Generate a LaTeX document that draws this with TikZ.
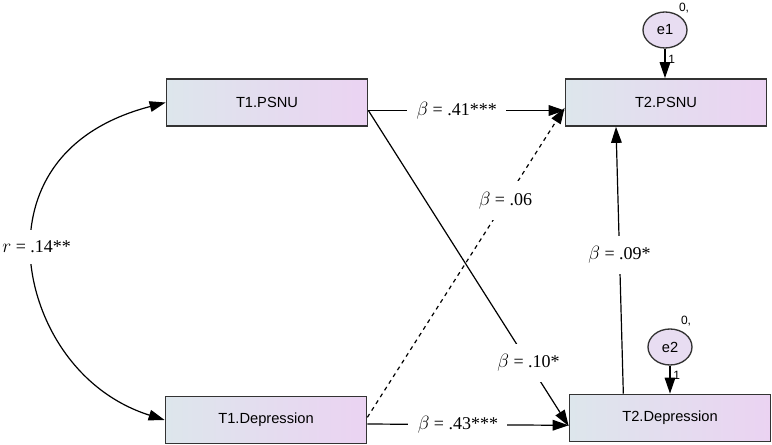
\documentclass[tikz,border=0pt]{standalone}
\usepackage{fontspec}
\setmainfont{Liberation Serif}
\newfontfamily\boxfont{Liberation Sans}
\usetikzlibrary{arrows.meta,shapes.geometric}

\definecolor{boxleft}{HTML}{DDE6EC}
\definecolor{boxright}{HTML}{EBD3F2}
\definecolor{errfill}{HTML}{E8DDF2}

\tikzset{
  var/.style={draw=black!80,line width=1.3pt,minimum width=150.75pt,minimum height=35.25pt,
    left color=boxleft,right color=boxright,font=\boxfont\fontsize{11}{12}\selectfont,inner sep=0pt},
  err/.style={ellipse,draw=black!80,line width=1pt,fill=errfill,minimum width=33pt,minimum height=27pt,
    font=\boxfont\fontsize{11}{12}\selectfont,inner sep=0pt},
  path/.style={line width=0.9pt,-{Triangle[length=12pt,width=8pt]}},
  coef/.style={fill=white,font=\fontsize{13.5}{14}\selectfont,inner xsep=7pt,inner ysep=8pt},
  small/.style={font=\boxfont\fontsize{9}{10}\selectfont,inner sep=2pt}
}

\begin{document}
\begin{tikzpicture}[x=0.75pt,y=-0.75pt]
            \useasboundingbox (0,0) rectangle (772,445);

            \node[var] (psnuA) at (267,102.5) {T1.PSNU};
            \node[var] (psnuB) at (666,102.5) {T2.PSNU};
            \node[var] (depA) at (266,420) {T1.Depression};
            \node[var] (depB) at (670,418) {T2.Depression};

            \node[err] (e1) at (665,30) {e1};
            \node[err] (e2) at (670,347) {e2};
            \node[small] at (684,8) {0,};
            \node[small] at (686,321) {0,};

            % error terms
            \draw[path] (e1) -- (e1 |- psnuB.north) node[small,pos=0.35,right] {1};
            \draw[path] (e2) -- (e2 |- depB.north) node[small,pos=0.35,right] {1};

            % correlation
            \draw[line width=0.9pt,{Triangle[length=12pt,width=8pt]}-{Triangle[length=12pt,width=8pt]}]
              (psnuA.west) .. controls (60,130) and (30,190) .. (30,247)
              node[coef,inner xsep=1pt,xshift=5pt] {$r$ = .14**}
              .. controls (30,310) and (70,390) .. (depA.west);

            % paths
            \draw[path] ([yshift=-6pt]psnuA.east) -- ([yshift=-6pt]psnuB.west)
              node[coef,pos=0.45] {$\beta$ = .41***};
            \draw[path] ([yshift=-6pt]psnuA.east) -- ([yshift=-6pt]depB.west)
              node[coef,pos=0.8] {$\beta$ = .10*};
            \draw[path,dashed] ([yshift=2pt]depA.east) -- ([yshift=-4pt]psnuB.west)
              node[coef,pos=0.7] {$\beta$ = .06};
            \draw[path] ([yshift=-3pt]depA.east) -- ([yshift=-4pt]depA.east -| depB.west)
              node[coef,pos=0.45] {$\beta$ = .43***};
            \draw[path] ([xshift=-35pt]depB.north) -- ([xshift=-37.5pt]psnuB.south)
              node[coef,pos=0.52] {$\beta$ = .09*};
\end{tikzpicture}
\end{document}
